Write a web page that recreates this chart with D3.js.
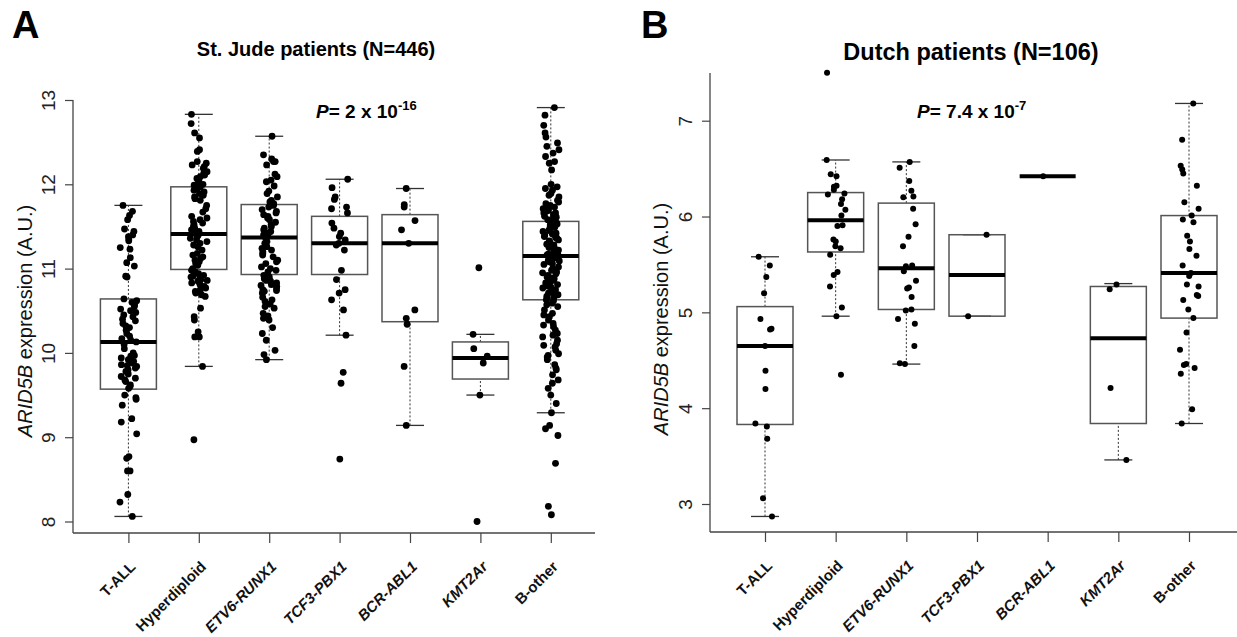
<!DOCTYPE html>
<html>
<head>
<meta charset="utf-8">
<script src="https://cdn.jsdelivr.net/npm/d3@7"></script>
<style>
body { margin: 0; background: #fff; }
text { font-family: "Liberation Sans", Arial, sans-serif; }
</style>
</head>
<body>
<div id="chart"></div>
<script>
// categories (same in both panels)
var groups = ["T-ALL", "Hyperdiploid", "ETV6-RUNX1", "TCF3-PBX1", "BCR-ABL1", "KMT2Ar", "B-other"];
var italicGroups = ["ETV6-RUNX1", "TCF3-PBX1", "BCR-ABL1", "KMT2Ar"];

// box stats: [lower whisker, Q1, median, Q3, upper whisker]
var stjudeStats = [
  [8.06, 9.57, 10.13, 10.64, 11.75],
  [9.84, 10.99, 11.41, 11.97, 12.83],
  [9.92, 10.93, 11.37, 11.76, 12.57],
  [10.21, 10.93, 11.30, 11.62, 12.06],
  [9.14, 10.37, 11.30, 11.64, 11.95],
  [9.50, 9.69, 9.94, 10.13, 10.22],
  [9.29, 10.63, 11.15, 11.56, 12.91]
];
var dutchStats = [
  [2.87, 3.83, 4.65, 5.06, 5.58],
  [4.96, 5.63, 5.96, 6.25, 6.59],
  [4.46, 5.03, 5.46, 6.14, 6.57],
  [4.96, 4.96, 5.39, 5.81, 5.81],
  [6.42, 6.42, 6.42, 6.42, 6.42],
  [3.46, 3.84, 4.73, 5.27, 5.30],
  [3.84, 4.94, 5.41, 6.01, 7.18]
];

// St. Jude points per group
var sjTALL = [11.75, 11.68, 11.63, 11.58, 11.47, 11.44, 11.40, 11.38, 11.35, 11.33, 11.25, 11.23, 11.13, 11.07, 11.03, 10.91, 10.90,
  10.64, 10.62, 10.60, 10.57, 10.55, 10.52, 10.50, 10.48, 10.45, 10.43, 10.40, 10.38, 10.35, 10.32, 10.30, 10.27, 10.23, 10.20, 10.17, 10.15,
  10.13, 10.10, 10.05, 10.00, 9.97, 9.96, 9.94, 9.92, 9.90, 9.88, 9.86, 9.85, 9.84, 9.82, 9.80, 9.78, 9.75, 9.72, 9.70, 9.68, 9.66, 9.62, 9.60, 9.58,
  9.50, 9.47, 9.45, 9.38, 9.22, 9.18, 9.04, 8.77, 8.75, 8.60, 8.60, 8.32, 8.23, 8.06];
var sjHyper = [12.83, 12.72, 12.61, 12.55, 12.41, 12.39, 12.27, 12.25, 12.23, 12.21, 12.19, 12.15, 12.13, 12.11, 12.09, 12.07, 12.05, 12.03, 12.00,
  11.99, 11.97, 11.95, 11.93, 11.91, 11.89, 11.87, 11.85, 11.83, 11.81, 11.75, 11.71, 11.67, 11.62, 11.60, 11.58, 11.56, 11.54, 11.52, 11.50,
  11.48, 11.46, 11.44, 11.42, 11.40, 11.38, 11.36, 11.34, 11.32, 11.30, 11.28, 11.26, 11.22, 11.18, 11.16, 11.14, 11.12, 11.10, 11.08, 11.06,
  11.04, 11.00, 10.98, 10.96, 10.95, 10.94, 10.92, 10.91, 10.90, 10.88, 10.87, 10.86, 10.85, 10.83, 10.81, 10.79, 10.77, 10.75, 10.73, 10.71,
  10.69, 10.67, 10.53, 10.43, 10.39, 10.25, 10.19, 10.19, 9.84, 8.97];
var sjEtv6 = [12.57, 12.35, 12.30, 12.27, 12.27, 12.23, 12.12, 12.09, 12.05, 12.03, 11.98, 11.92, 11.89, 11.85, 11.81, 11.79, 11.77, 11.75,
  11.73, 11.70, 11.68, 11.66, 11.64, 11.62, 11.60, 11.58, 11.55, 11.52, 11.50, 11.48, 11.46, 11.44, 11.42, 11.40, 11.38, 11.36, 11.32, 11.30,
  11.26, 11.24, 11.22, 11.20, 11.18, 11.16, 11.14, 11.10, 11.08, 11.06, 11.02, 11.00, 10.98, 10.96, 10.92, 10.90, 10.88, 10.86, 10.85, 10.83,
  10.81, 10.80, 10.79, 10.77, 10.75, 10.74, 10.73, 10.71, 10.66, 10.63, 10.61, 10.58, 10.55, 10.53, 10.47, 10.44, 10.41, 10.39, 10.30, 10.23,
  10.15, 10.03, 9.98, 9.92];
var sjTcf3 = [12.06, 11.96, 11.85, 11.82, 11.73, 11.71, 11.66, 11.54, 11.48, 11.42, 11.38, 11.34, 11.30, 11.28, 11.22, 10.98, 10.87,
  10.75, 10.71, 10.63, 10.51, 10.21, 9.77, 9.64, 8.74];
var sjBcr = [11.95, 11.76, 11.73, 11.57, 11.46, 11.30, 10.51, 10.41, 10.34, 9.84, 9.14];
var sjKmt = [11.01, 10.22, 10.05, 9.96, 9.88, 9.50, 8.00];
var sjBother = [12.91, 12.82, 12.70, 12.61, 12.56, 12.49, 12.45, 12.41, 12.37, 12.33, 12.27, 12.25, 12.17, 12.00, 11.97, 11.95, 11.93,
  11.89, 11.87, 11.85, 11.81, 11.79, 11.77, 11.75, 11.73, 11.72, 11.71, 11.69, 11.68, 11.66, 11.66, 11.64, 11.62, 11.61, 11.60, 11.58,
  11.57, 11.56, 11.54, 11.53, 11.52, 11.50, 11.49, 11.48, 11.46, 11.45, 11.44, 11.42, 11.41, 11.40, 11.38, 11.37, 11.36, 11.34, 11.33,
  11.32, 11.30, 11.29, 11.28, 11.26, 11.25, 11.24, 11.22, 11.21, 11.20, 11.18, 11.17, 11.16, 11.14, 11.13, 11.12, 11.10, 11.09, 11.08,
  11.06, 11.05, 11.02, 11.00, 10.98, 10.96, 10.95, 10.94, 10.92, 10.90, 10.89, 10.88, 10.86, 10.85, 10.84, 10.83, 10.81, 10.79, 10.78,
  10.77, 10.75, 10.73, 10.72, 10.71, 10.69, 10.67, 10.66, 10.65, 10.63, 10.62, 10.59, 10.57, 10.55, 10.51, 10.47, 10.45, 10.43, 10.39,
  10.35, 10.33, 10.31, 10.27, 10.23, 10.21, 10.19, 10.15, 10.11, 10.09, 10.07, 10.03, 9.99, 9.97, 9.95, 9.92, 9.86, 9.82, 9.80, 9.74,
  9.68, 9.64, 9.58, 9.50, 9.40, 9.29, 9.14, 9.10, 9.02, 8.69, 8.18, 8.08];

// Dutch points per group
var nlTALL = [5.58, 5.49, 5.37, 5.20, 4.93, 4.83, 4.82, 4.65, 4.39, 4.20, 3.84, 3.81, 3.68, 3.06, 2.87];
var nlHyper = [7.50, 6.59, 6.44, 6.42, 6.32, 6.31, 6.28, 6.24, 6.23, 6.18, 6.13, 6.07, 6.01, 5.91, 5.90, 5.76, 5.74, 5.69, 5.67,
  5.60, 5.42, 5.39, 5.27, 5.05, 4.96, 4.35];
var nlEtv6 = [6.57, 6.51, 6.37, 6.27, 6.21, 6.20, 6.08, 5.92, 5.79, 5.69, 5.49, 5.48, 5.43, 5.33, 5.26, 5.25, 5.16, 5.03, 5.02,
  4.93, 4.88, 4.65, 4.47, 4.46];
var nlTcf3 = [5.81, 4.96];
var nlBcr = [6.42];
var nlKmt = [5.29, 5.24, 4.21, 3.46];
var nlBother = [7.18, 6.80, 6.53, 6.49, 6.45, 6.32, 6.15, 6.08, 6.01, 5.97, 5.94, 5.80, 5.74, 5.66, 5.59, 5.49, 5.41, 5.38, 5.29,
  5.27, 5.18, 5.17, 5.13, 5.03, 4.94, 4.79, 4.61, 4.46, 4.45, 4.42, 4.36, 3.99, 3.84];

var stjudeTicks = [8, 9, 10, 11, 12, 13];
var dutchTicks = [3, 4, 5, 6, 7];

var svg = d3.select("#chart").append("svg")
  .attr("width", 1237)
  .attr("height", 637);

// fixed scatter pattern for the jitter (position only), in [-0.5, 0.5]
function jit(i) {
  var s = Math.sin(i * 12.9898 + 78.233) * 43758.5453;
  return s - Math.floor(s) - 0.5;
}

function drawPanel(p) {
  var g = svg.append("g");

  var x = d3.scalePoint().domain(groups).range(p.xRange);
  var y = d3.scaleLinear().domain(p.yDomain).range(p.yRange);
  var bw = 56;

  // L-shaped frame
  g.append("line").attr("x1", p.left).attr("x2", p.left).attr("y1", p.top).attr("y2", p.bottom)
    .attr("stroke", "#444").attr("stroke-width", 1.3);
  g.append("line").attr("x1", p.left).attr("x2", p.right).attr("y1", p.bottom).attr("y2", p.bottom)
    .attr("stroke", "#444").attr("stroke-width", 1.3);

  // y axis
  var yAxis = g.append("g")
    .attr("transform", `translate(${p.left},0)`)
    .call(d3.axisLeft(y).tickValues(p.ticks).tickSize(8).tickSizeOuter(0).tickFormat(d3.format("d")));
  yAxis.select(".domain").remove();
  yAxis.selectAll("line").attr("stroke", "#444").attr("stroke-width", 1.2);
  yAxis.selectAll("text")
    .attr("x", null).attr("dy", null)
    .attr("transform", "translate(-18,0) rotate(-90)")
    .attr("text-anchor", "middle")
    .attr("font-size", 19)
    .attr("fill", "#222");

  // x axis
  var xAxis = g.append("g")
    .attr("transform", `translate(0,${p.bottom})`)
    .call(d3.axisBottom(x).tickSize(10).tickSizeOuter(0));
  xAxis.select(".domain").remove();
  xAxis.selectAll("line").attr("stroke", "#444").attr("stroke-width", 1.2);
  xAxis.selectAll("text")
    .attr("y", null).attr("dy", "0.72em")
    .attr("transform", "translate(0,27) rotate(-45)")
    .attr("text-anchor", "end")
    .attr("font-size", 15)
    .attr("font-weight", "bold")
    .attr("font-style", d => (italicGroups.indexOf(d) >= 0 ? "italic" : "normal"))
    .attr("fill", "#111");

  // boxes
  var boxes = g.selectAll(".box")
    .data(p.stats)
    .enter()
    .append("g")
    .attr("transform", (d, i) => `translate(${x(groups[i])},0)`);

  boxes.append("line")
    .attr("x1", 0).attr("x2", 0)
    .attr("y1", d => y(d[0])).attr("y2", d => y(d[1]))
    .attr("stroke", "#333").attr("stroke-dasharray", "2,2");
  boxes.append("line")
    .attr("x1", 0).attr("x2", 0)
    .attr("y1", d => y(d[3])).attr("y2", d => y(d[4]))
    .attr("stroke", "#333").attr("stroke-dasharray", "2,2");
  boxes.append("line")
    .attr("x1", -bw / 4).attr("x2", bw / 4)
    .attr("y1", d => y(d[0])).attr("y2", d => y(d[0]))
    .attr("stroke", "#333").attr("stroke-width", 1.3);
  boxes.append("line")
    .attr("x1", -bw / 4).attr("x2", bw / 4)
    .attr("y1", d => y(d[4])).attr("y2", d => y(d[4]))
    .attr("stroke", "#333").attr("stroke-width", 1.3);
  boxes.append("rect")
    .attr("x", -bw / 2).attr("width", bw)
    .attr("y", d => y(d[3])).attr("height", d => y(d[1]) - y(d[3]))
    .attr("fill", "none").attr("stroke", "#555").attr("stroke-width", 1.5);
  boxes.append("line")
    .attr("x1", -bw / 2).attr("x2", bw / 2)
    .attr("y1", d => y(d[2])).attr("y2", d => y(d[2]))
    .attr("stroke", "#000").attr("stroke-width", 4);

  // points
  p.points.forEach(function(vals, gi) {
    g.selectAll(null)
      .data(vals)
      .enter()
      .append("circle")
      .attr("cx", (d, i) => x(groups[gi]) + jit(i + gi * 211) * p.jitter)
      .attr("cy", d => y(d))
      .attr("r", p.r)
      .attr("fill", "#000");
  });

  // titles
  g.append("text")
    .attr("x", p.letterX).attr("y", 38)
    .attr("font-size", 38).attr("font-weight", "bold")
    .text(p.letter);
  g.append("text")
    .attr("x", p.titleX).attr("y", p.titleY)
    .attr("text-anchor", "middle")
    .attr("font-size", p.titleSize).attr("font-weight", "bold")
    .text(p.title);

  var pv = g.append("text")
    .attr("x", p.pX).attr("y", 118)
    .attr("font-size", 19).attr("font-weight", "bold");
  pv.append("tspan").attr("font-style", "italic").text("P");
  pv.append("tspan").text("= " + p.pMant + " x 10");
  pv.append("tspan").attr("font-size", 13).attr("dy", -8).text(p.pExp);

  // y axis title
  var yt = g.append("text")
    .attr("transform", `translate(${p.ytX},${p.ytY}) rotate(-90)`)
    .attr("text-anchor", "middle")
    .attr("font-size", 20)
    .attr("fill", "#111");
  yt.append("tspan").attr("font-style", "italic").text("ARID5B");
  yt.append("tspan").text(" expression (A.U.)");
}

drawPanel({
  letter: "A", letterX: 12,
  title: "St. Jude patients (N=446)", titleX: 316, titleY: 56, titleSize: 20,
  pMant: "2", pExp: "-16", pX: 316,
  xRange: [128.4, 550.8], yDomain: [13, 8], yRange: [100, 521.5],
  left: 73, right: 595, top: 100, bottom: 533,
  ticks: stjudeTicks, stats: stjudeStats,
  points: [sjTALL, sjHyper, sjEtv6, sjTcf3, sjBcr, sjKmt, sjBother],
  jitter: 17, r: 3.4,
  ytX: 32, ytY: 321
});

drawPanel({
  letter: "B", letterX: 641,
  title: "Dutch patients (N=106)", titleX: 971, titleY: 60, titleSize: 23.5,
  pMant: "7.4", pExp: "-7", pX: 917,
  xRange: [765, 1189], yDomain: [7, 3], yRange: [120.7, 504],
  left: 710, right: 1237, top: 73, bottom: 532,
  ticks: dutchTicks, stats: dutchStats,
  points: [nlTALL, nlHyper, nlEtv6, nlTcf3, nlBcr, nlKmt, nlBother],
  jitter: 20, r: 3,
  ytX: 668, ytY: 319
});
</script>
</body>
</html>
